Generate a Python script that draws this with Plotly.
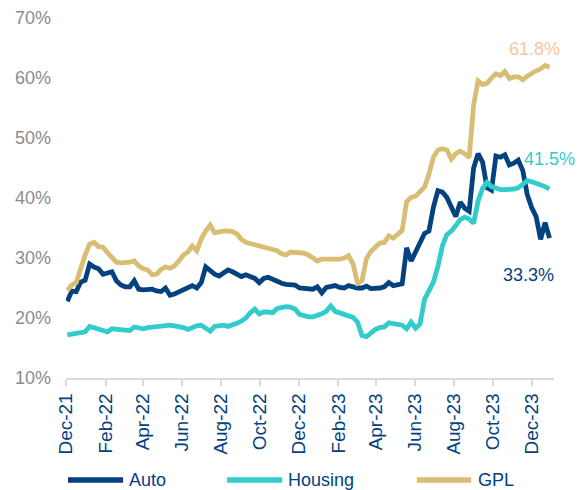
import pandas as pd
import plotly.graph_objects as go

# Weekly observation dates (Dec-2021 to early Jan-2024)
dates = pd.date_range("2021-12-03", periods=109, freq="7D")

auto = [22.8, 24.5, 24.4, 26.0, 26.3, 29.0, 28.5, 28.2, 27.3, 27.5,
        27.7, 26.2, 25.5, 25.2, 25.2, 26.2, 24.8, 24.7, 24.8, 24.8,
        24.5, 24.4, 25.0, 23.8, 24.0, 24.3, 24.8, 25.1, 25.4, 25.0,
        25.9, 28.5, 27.8, 27.3, 27.0, 27.5, 28.0, 27.7, 27.3, 26.9,
        27.2, 27.0, 26.6, 25.9, 26.6, 26.8, 26.4, 26.1, 25.8, 25.6,
        25.6, 25.5, 25.0, 24.9, 24.7, 24.8, 25.2, 24.2, 25.1, 25.2,
        25.4, 25.1, 25.0, 25.4, 25.1, 25.0, 25.0, 25.3, 24.9, 24.9,
        25.0, 25.2, 25.9, 25.4, 25.6, 25.7, 31.7, 29.5, 31.0, 32.5,
        34.1, 34.5, 38.5, 41.2, 41.0, 40.1, 38.6, 36.9, 39.3, 38.3,
        37.8, 45.0, 47.4, 46.0, 41.7, 41.3, 47.0, 46.8, 47.2, 45.5,
        45.8, 46.3, 44.6, 40.6, 38.4, 36.9, 33.1, 35.9, 33.3]

housing = [17.2, 17.3, 17.4, 17.7, 17.7, 18.6, 18.4, 18.2, 18.0, 17.7,
           18.2, 18.1, 18.1, 18.0, 17.9, 18.5, 18.4, 18.2, 18.4, 18.5,
           18.6, 18.6, 18.6, 18.8, 18.7, 18.6, 18.4, 18.1, 18.5, 18.7,
           18.8, 18.3, 17.8, 18.6, 18.7, 18.8, 18.6, 18.8, 19.1, 19.5,
           20.0, 20.9, 21.5, 20.7, 21.0, 21.0, 20.9, 21.6, 21.8, 21.9,
           21.8, 21.5, 20.6, 20.3, 20.2, 20.2, 20.4, 20.7, 21.1, 22.0,
           21.1, 20.8, 20.6, 20.4, 20.1, 19.3, 17.1, 16.9, 17.5, 18.1,
           18.4, 18.5, 19.2, 19.1, 19.0, 18.8, 18.2, 19.3, 18.3, 19.0,
           23.1, 24.5, 26.0, 28.6, 32.0, 33.9, 34.5, 35.4, 36.4, 36.8,
           36.5, 35.8, 39.5, 41.6, 42.6, 41.9, 41.6, 41.4, 41.4, 41.4,
           41.5, 41.7, 42.4, 42.9, 42.7, 42.5, 42.1, 41.9, 41.5]

gpl = [24.6, 25.5, 25.9, 28.3, 30.5, 32.3, 32.6, 31.9, 31.8, 30.9,
       30.2, 29.3, 29.2, 29.2, 29.3, 29.5, 28.7, 28.2, 28.0, 27.2,
       27.3, 28.1, 28.5, 28.3, 28.7, 29.5, 30.5, 31.0, 32.0, 31.2,
       33.2, 34.5, 35.5, 34.2, 34.4, 34.5, 34.5, 34.4, 34.0, 33.1,
       32.6, 32.4, 32.3, 32.0, 31.8, 31.8, 31.6, 31.2, 30.7, 30.5,
       31.0, 31.0, 31.0, 30.8, 30.5, 30.1, 29.5, 29.8, 29.8, 29.7,
       29.7, 29.8, 30.0, 30.4, 29.0, 25.8, 26.2, 29.9, 31.1, 31.9,
       32.5, 32.6, 33.7, 33.3, 34.0, 34.6, 39.4, 40.1, 40.3, 41.2,
       41.8, 44.0, 46.8, 48.0, 48.2, 48.0, 46.5, 47.4, 47.8, 47.4,
       46.7, 55.5, 59.5, 58.9, 59.1, 60.0, 60.7, 60.4, 61.1, 59.9,
       60.2, 60.2, 59.7, 60.3, 60.8, 61.2, 61.5, 62.1, 61.8]

names = ["Auto", "Housing", "GPL"]
colors = ["#03427F", "#33CCCC", "#D8BE74"]
label_colors = ["#03427F", "#33CCCC", "#F8C7A0"]
series = [auto, housing, gpl]

FONT = "Liberation Sans, Arial, sans-serif"
NAVY = "#03427F"

fig = go.Figure()
for name, vals, col in zip(names, series, colors):
    fig.add_trace(go.Scatter(x=dates, y=vals, mode="lines", name=name,
                             line=dict(color=col, width=4.8),
                             showlegend=False))

# End-value labels
shifts = {"Auto": (-21, -37), "Housing": (0, 30), "GPL": (-15, 18)}
for name, vals, lc in zip(names, series, label_colors):
    dx, dy = shifts[name]
    fig.add_annotation(x=dates[-1], y=vals[-1], text=f"{vals[-1]:.1f}%",
                       showarrow=False, xshift=dx, yshift=dy,
                       font=dict(family=FONT, size=18, color=lc))

# Custom legend (long line swatches)
leg_pos = [(0.004, 0.117, 0.125), (0.330, 0.443, 0.451), (0.719, 0.830, 0.840)]
leg_y = -0.283
for (x0, x1, xt), name, col in zip(leg_pos, names, colors):
    fig.add_shape(type="line", xref="paper", yref="paper",
                  x0=x0, x1=x1, y0=leg_y, y1=leg_y,
                  line=dict(color=col, width=5.5))
    fig.add_annotation(xref="paper", yref="paper", x=xt, y=leg_y,
                       text=name, showarrow=False, xanchor="left",
                       yanchor="middle",
                       font=dict(family=FONT, size=18, color=NAVY))

fig.update_layout(
    width=580, height=490,
    margin=dict(l=66, r=26, t=18, b=112, autoexpand=False),
    paper_bgcolor="white", plot_bgcolor="white",
    font=dict(family=FONT),
)
fig.update_xaxes(
    type="date", range=["2021-12-01", "2024-01-05"],
    tick0="2021-12-01", dtick="M2", tickformat="%b-%y",
    tickangle=-90, tickfont=dict(size=19, color=NAVY),
    showgrid=False, zeroline=False, automargin=False,
    showline=True, linecolor="#D9D9D9", linewidth=1.5,
    ticks="outside", ticklen=6, tickcolor="#D9D9D9", tickwidth=1.5,
)
fig.update_yaxes(
    range=[10, 70], dtick=10, ticksuffix="%",
    tickfont=dict(size=18, color="#8C8C8C"),
    showgrid=False, zeroline=False, showline=False, automargin=False,
    ticklabelstandoff=14,
)

fig.write_html("out.html", config={"displayModeBar": False},
               post_script="document.body.style.margin='0';")
